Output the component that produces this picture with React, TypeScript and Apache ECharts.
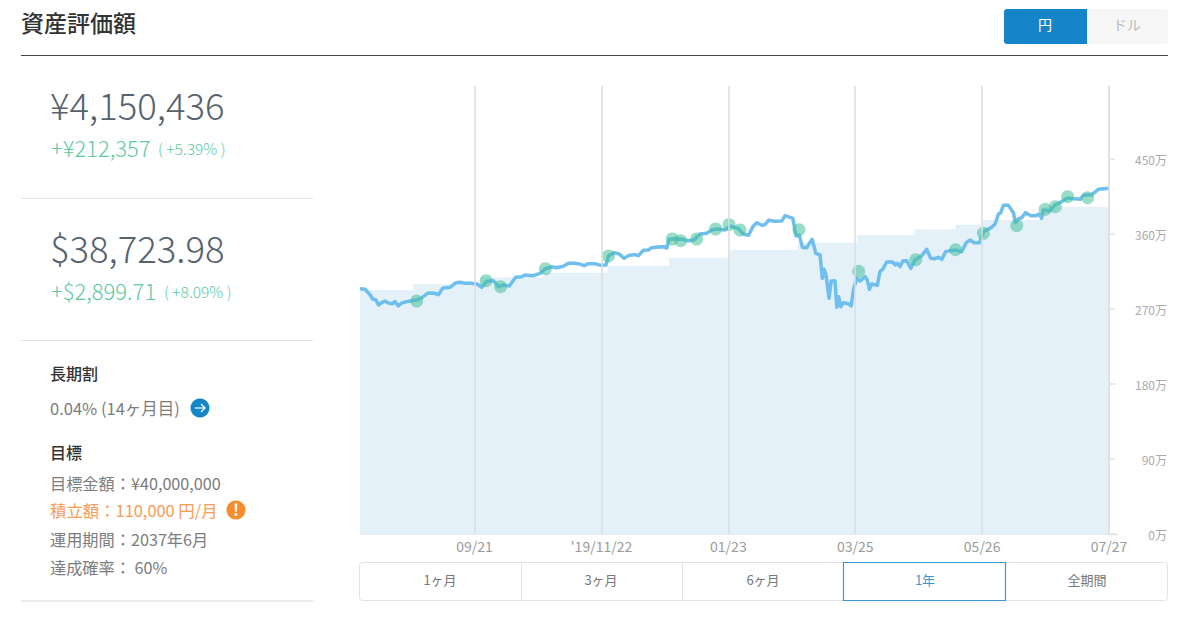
import React, { useEffect, useRef } from "react";
import * as echarts from "echarts";

const FONT = '"Noto Sans CJK JP", "Noto Sans", sans-serif';

// Horizontal unit: days since 2019-07-27. Vertical unit: 万円.
const tickDays = [56, 118, 180, 242, 304, 366];
const tickLabels = ["09/21", "'19/11/22", "01/23", "03/25", "05/26", "07/27"];
const yTicks = [0, 90, 180, 270, 360, 450];
const yMax = 537.6;

const contribDays = [0, 26, 59, 90, 121, 151, 180, 214, 243, 271, 291, 304, 334, 366];
const contribValues = [292.8, 300, 308, 313.6, 322, 331.6, 340.8, 349.6, 358.8, 365.6, 371, 376.8, 392.8, 392.8];

const lineDays = [
  0, 2.4, 4.6, 6.2, 7.8, 9, 10.6, 12.2, 13.8, 16, 17.1, 18.7, 20.4, 22.8, 25.2, 27.7, 30.1, 32.9, 35.8, 38.3,
  40.4, 44, 46.9, 48.9, 51.3, 53.8, 57.3, 59.5, 61.9, 65.2, 67.6, 70, 73, 76, 79, 80.6, 84.7, 88, 90.4, 93.7,
  96.1, 99.4, 101.8, 104.3, 107.5, 109.5, 111.6, 114.8, 117.6, 120.2, 121.4, 124.1, 126.7, 129, 131.6, 134.4, 136, 138.5, 140.9, 142.5,
  145.8, 148.2, 149.9, 151, 153.9, 157.2, 160.4, 163.2, 166.2, 169.4, 171.9, 174.3, 178.4, 180.8, 184.9, 187.3, 189.8,
  192.2, 193.9, 196.3, 197.9, 199.6, 202.8, 206.1, 207.7, 210.5, 211.5, 213.1, 214.7, 216.2, 218.3, 219.6, 221, 222.7, 224.8, 225.9,
  226.8, 227.7, 229.2, 230.2, 232.1, 233, 233.9, 234.9, 236.2, 238.7, 240, 241.1, 242.7, 244.4, 246.8, 247.9, 248.9, 250.1, 252.8,
  254.1, 255.4, 257.4, 260.3, 261.6, 262.6, 263.9, 265.2, 267.2, 269.1, 271.2, 274.5, 276.9, 278.9, 281, 282.6, 284.3, 286.2, 288.3,
  290.8, 294, 296.2, 298.1, 300.1, 302.7, 304.6, 308.7, 310.3, 312, 313.1, 314.4, 316.8, 319.3, 320.3, 321.7, 323.4, 325.3, 327.8,
  330.4, 331.7, 333.1, 333.9, 337.2, 339.6, 342.9, 345.3, 349.4, 351.9, 353.5, 357.6, 360.8, 366,
];
const lineValues = [
  294.4, 293.6, 288, 282, 280.8, 274.8, 277.6, 279.6, 277.2, 276.4, 278.8, 273.6, 277.2, 278.8, 280, 280.8, 283.2, 288.8, 289.2, 287.2,
  294.8, 296, 301.6, 302, 300.8, 300.8, 300, 296, 303.2, 304, 296.8, 298.8, 297.6, 308, 308.8, 310.8, 310, 312.8, 318, 320.8,
  319.6, 321.2, 324.8, 324.8, 324, 322, 324.4, 324.4, 322.4, 322.8, 333.6, 337.6, 336, 330.8, 334.4, 335.2, 334, 340.4, 340.8, 343.6,
  344.4, 344.8, 343.2, 353.6, 354.4, 353.6, 352, 352.8, 360, 360.8, 364.8, 366, 364.8, 369.6, 366.4, 360, 358.4,
  369.6, 373.6, 370.4, 371.2, 376.4, 375.2, 375.6, 382, 379.6, 378.8, 357.6, 358.4, 344, 343.6, 348.8, 353.6, 336.8, 334.8, 306.8,
  317.6, 310.8, 282.8, 303.6, 304, 272, 284.8, 272.8, 277.6, 276.4, 273.6, 292.8, 306.8, 303.6, 308.8, 304.8, 293.6, 300, 298.4,
  314.8, 317.6, 326.4, 326.4, 322.8, 324.8, 320.8, 327.6, 328, 318.8, 328.8, 334, 341.6, 330.8, 330.4, 332, 329.6, 338.8, 340,
  340.8, 338.8, 349.6, 352.8, 349.6, 349.6, 362.8, 368, 372, 384, 385.6, 394.4, 394.4, 385.6, 373.6, 378, 379.6, 385.6, 382,
  382, 384, 378.8, 388.8, 387.6, 394.8, 398.8, 402.8, 402.4, 401.6, 406.4, 407.2, 413.6, 415,
];

const dotDays = [27.7, 61.6, 68.7, 90.6, 121.4, 152.6, 156.7, 164.5, 173.8, 180.3, 185.7, 214.5, 243.7, 271.6, 291, 304.6, 320.9, 334.8, 339.8, 345.8, 355.6];
const dotValues = [279.6, 304, 296.8, 318.4, 333.6, 354, 352, 354, 366, 371.2, 364.8, 365.2, 315.2, 329.2, 341.2, 360.8, 370, 389.6, 392.8, 404.8, 403.6];

const rangeLabels = ["1ヶ月", "3ヶ月", "6ヶ月", "1年", "全期間"];

function zip(a: number[], b: number[]) {
  return a.map((v, i) => [v, b[i]]);
}

function txt(text: string, x: number, y: number, fontSize: number, fill: string, extra: any = {}) {
  return {
    type: "text",
    x,
    y,
    z: 10,
    silent: true,
    style: { text, fontSize, fill, fontFamily: FONT, fontWeight: 400, verticalAlign: "middle", align: "left", ...extra },
  };
}
function hr(x1: number, x2: number, y: number, stroke: string, lineWidth = 1) {
  return { type: "line", z: 9, silent: true, shape: { x1, y1: y, x2, y2: y }, style: { stroke, lineWidth } };
}
function vr(x: number, y1: number, y2: number, stroke: string) {
  return { type: "line", z: 9, silent: true, shape: { x1: x, y1, x2: x, y2 }, style: { stroke, lineWidth: 1 } };
}

const GREEN = "#5cc9a0";
const NUM = "#56626e";
const GREY = "#7d7d7d";
const DARK = "#333333";

function panel() {
  const btnCenters = [440, 601, 763, 925, 1087];
  return [
    txt("資産評価額", 21, 22, 23, DARK, { fontWeight: 500 }),
    hr(21, 1168, 55.5, "#444444"),
    // currency switch
    { type: "rect", z: 9, silent: true, shape: { x: 1087, y: 9, width: 81, height: 35, r: [0, 3, 3, 0] }, style: { fill: "#f6f6f6" } },
    { type: "rect", z: 9, silent: true, shape: { x: 1004, y: 9, width: 83, height: 35, r: [3, 0, 0, 3] }, style: { fill: "#1585c7" } },
    txt("円", 1045, 24, 14, "#ffffff", { align: "center" }),
    txt("ドル", 1127, 24, 14, "#bdbdbd", { align: "center" }),
    // values
    txt("¥4,150,436", 50, 104, 36.5, NUM, { fontWeight: 300 }),
    txt("+¥212,357", 51, 146.5, 22, GREEN, { fontWeight: 300 }),
    txt("( +5.39% )", 158, 148, 15.5, GREEN, { fontWeight: 300 }),
    hr(21, 313, 198.5, "#e4e4e4"),
    txt("$38,723.98", 50, 247, 36.5, NUM, { fontWeight: 300 }),
    txt("+$2,899.71", 51, 289.5, 22, GREEN, { fontWeight: 300 }),
    txt("( +8.09% )", 164, 291, 15.5, GREEN, { fontWeight: 300 }),
    hr(21, 313, 340.5, "#e4e4e4"),
    txt("長期割", 50, 373, 16, DARK, { fontWeight: 500 }),
    txt("0.04% (14ヶ月目)", 50, 408, 16.5, GREY),
    { type: "circle", z: 9, silent: true, shape: { cx: 200, cy: 408, r: 9.5 }, style: { fill: "#1585c7" } },
    { type: "polyline", z: 10, silent: true, shape: { points: [[195, 408], [205, 408]] }, style: { stroke: "#fff", lineWidth: 1.2, fill: "none" } },
    { type: "polyline", z: 10, silent: true, shape: { points: [[201, 404], [205, 408], [201, 412]] }, style: { stroke: "#fff", lineWidth: 1.2, fill: "none" } },
    txt("目標", 50, 452, 16, DARK, { fontWeight: 500 }),
    txt("目標金額：¥40,000,000", 50, 483, 16.2, GREY),
    txt("積立額：110,000 円/月", 50, 510, 16.4, "#fb9a52"),
    { type: "circle", z: 9, silent: true, shape: { cx: 236, cy: 510, r: 9.5 }, style: { fill: "#f58d2a" } },
    txt("!", 236, 509, 16, "#ffffff", { align: "center", fontWeight: 700 }),
    txt("運用期間：2037年6月", 50, 539, 16.2, GREY),
    txt("達成確率： 60%", 50, 567, 16.2, GREY),
    hr(21, 313, 601, "#e4e4e4", 1.5),
    // range buttons
    { type: "rect", z: 9, silent: true, shape: { x: 359.5, y: 562.5, width: 808, height: 38, r: 3 }, style: { fill: "#ffffff", stroke: "#e3e3e3", lineWidth: 1 } },
    vr(521.5, 563, 600, "#e3e3e3"),
    vr(682.5, 563, 600, "#e3e3e3"),
    { type: "rect", z: 9, silent: true, shape: { x: 843.5, y: 562.5, width: 162, height: 38 }, style: { fill: "#ffffff", stroke: "#3b97d3", lineWidth: 1.2 } },
    ...rangeLabels.map((t, i) => txt(t, btnCenters[i], 579.5, 13, i === 3 ? "#3b97d3" : "#777777", { align: "center" })),
    hr(1109, 1118, 534.5, "#dfe3e7", 1.5),
  ];
}

export default function App() {
  const ref = useRef<HTMLDivElement>(null);
  useEffect(() => {
    document.body.style.margin = "0";
    const chart = echarts.init(ref.current!, undefined, { renderer: "svg" });
    chart.setOption({
      animation: false,
      backgroundColor: "#ffffff",
      textStyle: { fontFamily: FONT },
      grid: { left: 360, right: 91, top: 86, bottom: 89 },
      xAxis: {
        type: "value",
        min: 0,
        max: 366,
        axisLine: { show: true, lineStyle: { color: "#dfe3e7", width: 1.5 } },
        axisTick: { show: false },
        splitLine: { show: false },
        axisLabel: {
          customValues: tickDays,
          margin: 5,
          fontSize: 14,
          color: "#9a9a9a",
          fontFamily: FONT,
          hideOverlap: false,
          formatter: (v: number) => tickLabels[tickDays.indexOf(v)] ?? "",
        },
      },
      yAxis: {
        type: "value",
        position: "right",
        min: 0,
        max: yMax,
        axisLine: { show: true, onZero: false, lineStyle: { color: "#dfe3e7", width: 1.5 } },
        axisTick: { show: true, customValues: yTicks, length: 6, lineStyle: { color: "#dfe3e7", width: 1.5 } },
        splitLine: { show: false },
        axisLabel: {
          customValues: yTicks,
          margin: 58,
          align: "right",
          fontSize: 12,
          color: "#aaaaaa",
          fontFamily: FONT,
          padding: [0, 0, 2, 0],
          formatter: (v: number) => `${v}万`,
        },
      },
      series: [
        {
          type: "line",
          name: "contribution",
          step: "end",
          data: zip(contribDays, contribValues),
          showSymbol: false,
          lineStyle: { width: 0 },
          areaStyle: { color: "#e4f1f9", opacity: 1 },
          z: 1,
          silent: true,
          markLine: {
            silent: true,
            symbol: "none",
            label: { show: false },
            lineStyle: { color: "#d9dee3", width: 1.5, type: "solid" },
            data: tickDays.map((d) => ({ xAxis: d })),
          },
        },
        {
          type: "line",
          name: "value",
          data: zip(lineDays, lineValues),
          showSymbol: false,
          lineStyle: { color: "#6fbfee", width: 3.5, join: "round" },
          z: 3,
          silent: true,
        },
        {
          type: "scatter",
          name: "events",
          data: zip(dotDays, dotValues),
          symbolSize: 13,
          itemStyle: { color: "#45c09a", opacity: 0.55 },
          z: 4,
          silent: true,
        },
      ],
      graphic: { elements: panel() },
    });
    return () => chart.dispose();
  }, []);
  return <div ref={ref} style={{ position: "fixed", left: 0, top: 0, width: 1200, height: 623 }} />;
}
